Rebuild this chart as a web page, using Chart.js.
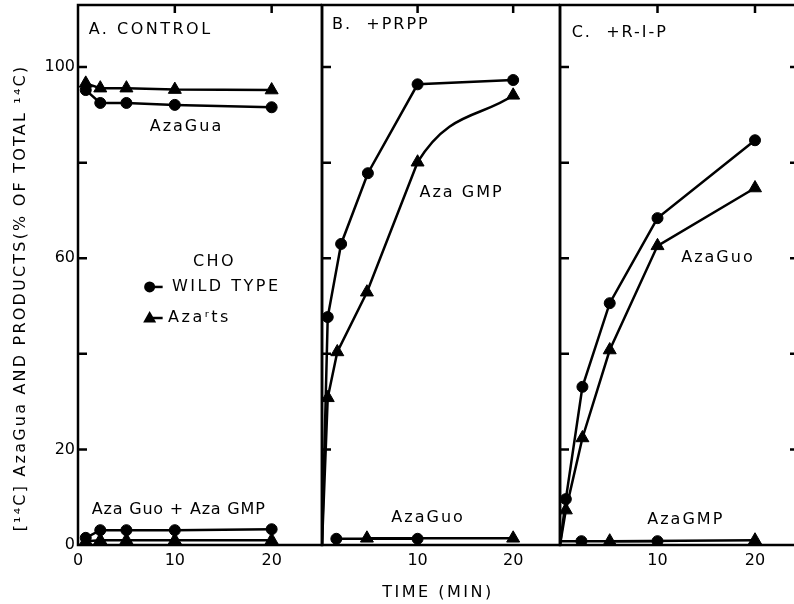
<!DOCTYPE html>
<html>
<head>
<meta charset="utf-8">
<script src="https://cdn.jsdelivr.net/npm/chart.js@4.4.1/dist/chart.umd.min.js"></script>
<style>
html, body { margin: 0; padding: 0; background: #fff; overflow: hidden; }
#wrap { position: relative; width: 794px; height: 604px; overflow: hidden; }
canvas { position: absolute; left: 0; top: 0; }
</style>
</head>
<body>
<div id="wrap">
  <canvas id="cA" width="794" height="604"></canvas>
  <canvas id="cB" width="794" height="604"></canvas>
  <canvas id="cC" width="794" height="604"></canvas>
</div>
<script>
// ---- data (time in min, % of total 14C) ----
// A. control
const timeA = [0.8, 2.3, 5, 10, 20];
const guaWildA = [95.2, 92.5, 92.5, 92.1, 91.6];
const guaMutA = [96.6, 95.6, 95.6, 95.3, 95.2];
const prodWildA = [1.5, 3.1, 3.1, 3.1, 3.3];
const prodMutA = [0.8, 1.0, 1.0, 1.0, 1.0];

// B. + PRPP
const timeWildB = [0, 0.6, 2, 4.8, 10, 20];
const gmpWildB = [0, 47.7, 63.0, 77.8, 96.4, 97.3];
const timeMutB = [0, 0.6, 1.6, 4.7, 10, 20];
const gmpMutB = [0, 30.8, 40.4, 52.9, 80.1, 94.1];
const guoTimeWildB = [1.5, 10];
const guoWildB = [1.3, 1.3];
const guoTimeMutB = [4.7, 20];
const guoMutB = [1.4, 1.4];

// C. + R-1-P
const timeC = [0, 0.6, 2.3, 5.1, 10, 20];
const guoWildC = [0, 9.6, 33.1, 50.6, 68.4, 84.7];
const guoMutC = [0, 7.3, 22.4, 40.8, 62.6, 74.7];
const gmpTimeWildC = [0, 2.2, 10];
const gmpWildC = [0.8, 0.8, 0.8];
const gmpTimeMutC = [5.1, 20];
const gmpMutC = [0.8, 1.0];

// tick labels
const yTickLabels = [0, 20, 60, 100];
const xTickLabelsA = [0, 10, 20];
const xTickLabelsBC = [10, 20];

const FONT = '"DejaVu Sans", sans-serif';
const INK = '#000';

const xy = (ts, vs) => ts.map((t, i) => ({ x: t, y: vs[i] }));

function series(points, style, extra) {
  return Object.assign({
    data: points,
    borderColor: INK,
    borderWidth: 2.5,
    pointStyle: style,
    pointRadius: style === 'triangle' ? 7.5 : 5.5,
    pointBackgroundColor: INK,
    pointBorderColor: INK,
    pointBorderWidth: 1,
    tension: 0
  }, extra || {});
}

function noPad(s) {
  s.paddingTop = 0; s.paddingBottom = 0; s.paddingLeft = 0; s.paddingRight = 0;
}

// frame, inward ticks and lettering
const framePlugin = {
  id: 'frame',
  afterDraw(chart, args, o) {
    const { ctx, chartArea: a, scales: { x, y } } = chart;
    ctx.save();
    ctx.strokeStyle = INK;
    ctx.lineWidth = 2.5;
    ctx.beginPath();
    ctx.moveTo(a.right, a.top); ctx.lineTo(a.left, a.top);
    ctx.lineTo(a.left, a.bottom); ctx.lineTo(a.right, a.bottom);
    if (!o.openRight) ctx.lineTo(a.right, a.top);
    y.ticks.forEach(t => {
      if (t.value > 0 && t.value % 20 === 0) {
        const py = y.getPixelForValue(t.value);
        ctx.moveTo(a.left, py); ctx.lineTo(a.left + 9, py);
        if (o.openRight) { ctx.moveTo(a.right, py); ctx.lineTo(a.right - 4, py); }
      }
    });
    x.ticks.forEach(t => {
      if (t.value > 0 && t.value % 10 === 0) {
        const px = x.getPixelForValue(t.value);
        ctx.moveTo(px, a.top); ctx.lineTo(px, a.top + 8);
      }
    });
    ctx.stroke();

    ctx.fillStyle = INK;
    ctx.font = '16px ' + FONT;
    ctx.textBaseline = 'middle';
    (o.texts || []).forEach(l => {
      ctx.letterSpacing = l.spacing || '2.5px';
      ctx.textAlign = l.align || 'center';
      ctx.fillText(l.text, x.getPixelForValue(l.x), y.getPixelForValue(l.y));
    });

    // little legend
    ctx.letterSpacing = '2.5px';
    (o.keys || []).forEach(k => {
      const px = x.getPixelForValue(k.x), py = y.getPixelForValue(k.y);
      ctx.beginPath();
      ctx.lineWidth = 2.5;
      ctx.moveTo(px, py); ctx.lineTo(px + 13, py);
      ctx.stroke();
      ctx.beginPath();
      if (k.style === 'circle') {
        ctx.arc(px, py, 5.5, 0, Math.PI * 2);
      } else {
        ctx.moveTo(px, py - 7); ctx.lineTo(px + 6.5, py + 4.5); ctx.lineTo(px - 6.5, py + 4.5);
        ctx.closePath();
      }
      ctx.fill();
      ctx.textAlign = 'left';
      ctx.fillText(k.text, x.getPixelForValue(k.tx), py);
    });

    (o.free || []).forEach(l => {
      ctx.save();
      ctx.translate(l.px, l.py);
      if (l.rot) ctx.rotate(l.rot);
      ctx.textAlign = 'center';
      ctx.letterSpacing = l.spacing || '2.5px';
      ctx.fillText(l.text, 0, 0);
      ctx.restore();
    });
    ctx.restore();
  }
};

function panel(id, p) {
  return new Chart(document.getElementById(id), {
    type: 'line',
    data: { datasets: p.datasets },
    options: {
      responsive: false,
      animation: false,
      // autoPadding would push the plot box in to make room for the markers
      layout: {
        autoPadding: false,
        padding: { left: p.area.left - p.yWidth, right: 794 - p.area.right, top: p.area.top, bottom: 0 }
      },
      plugins: {
        legend: { display: false },
        tooltip: { enabled: false },
        frame: p.frame
      },
      scales: {
        x: {
          type: 'linear', min: 0, max: p.xMax,
          grid: { display: false, drawTicks: false },
          border: { display: false },
          ticks: {
            stepSize: 10, includeBounds: false, autoSkip: false, maxRotation: 0, padding: 6,
            color: INK, font: { family: FONT, size: 16 },
            callback: v => p.xLabels.includes(v) ? String(v) : ''
          },
          afterFit: s => { s.height = 604 - p.area.bottom; noPad(s); }
        },
        y: {
          type: 'linear', min: 0, max: 113,
          grid: { display: false, drawTicks: false },
          border: { display: false },
          ticks: {
            display: p.yLabels, stepSize: 20, includeBounds: false, padding: 3,
            color: INK, font: { family: FONT, size: 16 },
            callback: v => yTickLabels.includes(v) ? String(v) : ''
          },
          afterFit: s => { s.width = p.yWidth; noPad(s); }
        }
      }
    },
    plugins: [framePlugin]
  });
}

panel('cA', {
  area: { left: 78, right: 322, top: 5, bottom: 545 },
  yWidth: 78, xMax: 25.2, yLabels: true, xLabels: xTickLabelsA,
  datasets: [
    series(xy(timeA, guaWildA), 'circle'),
    series(xy(timeA, guaMutA), 'triangle'),
    series(xy(timeA, prodWildA), 'circle'),
    series(xy(timeA, prodMutA), 'triangle')
  ],
  frame: {
    texts: [
      { text: 'A. CONTROL', x: 1.1, y: 107.7, align: 'left' },
      { text: 'AzaGua', x: 11.2, y: 87.4, spacing: '2px' },
      { text: 'CHO', x: 14.1, y: 59.2 },
      { text: 'Aza Guo + Aza GMP', x: 10.4, y: 7.3, spacing: '0.8px' }
    ],
    keys: [
      { style: 'circle', x: 7.4, y: 54.0, tx: 9.7, text: 'WILD TYPE' },
      { style: 'triangle', x: 7.4, y: 47.5, tx: 9.3, text: 'Azaʳts' }
    ],
    free: [
      { text: '[¹⁴C] AzaGua AND PRODUCTS(% OF TOTAL ¹⁴C)', px: 21, py: 298, rot: -Math.PI / 2, spacing: '2.2px' }
    ]
  }
});

// the mutant curve in B is straight up to 10 min and bends between 10 and 20 min
const mutLineB = series(xy(timeMutB, gmpMutB), 'triangle', {
  pointRadius: [0, 7.5, 7.5, 7.5, 7.5, 7.5],
  segment: { borderColor: c => c.p0DataIndex === 4 ? 'rgba(0,0,0,0)' : INK }
});
const mutBendB = series(xy(timeMutB.slice(3), gmpMutB.slice(3)), 'triangle', {
  pointRadius: 0,
  cubicInterpolationMode: 'monotone',
  segment: { borderColor: c => c.p0DataIndex === 0 ? 'rgba(0,0,0,0)' : INK }
});

panel('cB', {
  area: { left: 322, right: 560, top: 5, bottom: 545 },
  yWidth: 0, xMax: 24.9, yLabels: false, xLabels: xTickLabelsBC,
  datasets: [
    series(xy(timeWildB, gmpWildB), 'circle', { pointRadius: [0, 5.5, 5.5, 5.5, 5.5, 5.5] }),
    mutLineB,
    mutBendB,
    series(xy(guoTimeWildB, guoWildB), 'circle'),
    series(xy(guoTimeMutB, guoMutB), 'triangle')
  ],
  frame: {
    texts: [
      { text: 'B.  +PRPP', x: 1.05, y: 108.8, align: 'left', spacing: '2px' },
      { text: 'Aza GMP', x: 14.6, y: 73.6, spacing: '2px' },
      { text: 'AzaGuo', x: 11.1, y: 5.6, spacing: '2px' }
    ],
    free: [
      { text: 'TIME (MIN)', px: 438, py: 593 }
    ]
  }
});

panel('cC', {
  area: { left: 560, right: 794, top: 5, bottom: 545 },
  yWidth: 0, xMax: 24.0, yLabels: false, xLabels: xTickLabelsBC,
  datasets: [
    series(xy(timeC, guoWildC), 'circle', { pointRadius: [0, 5.5, 5.5, 5.5, 5.5, 5.5] }),
    series(xy(timeC, guoMutC), 'triangle', { pointRadius: [0, 7.5, 7.5, 7.5, 7.5, 7.5] }),
    series(xy(gmpTimeWildC, gmpWildC), 'circle', { pointRadius: [0, 5.5, 5.5] }),
    series(xy(gmpTimeMutC, gmpMutC), 'triangle')
  ],
  frame: {
    openRight: true,
    texts: [
      { text: 'C.  +R-I-P', x: 1.2, y: 107.1, align: 'left', spacing: '2px' },
      { text: 'AzaGuo', x: 16.2, y: 60.0, spacing: '2px' },
      { text: 'AzaGMP', x: 12.9, y: 5.2, spacing: '2px' }
    ]
  }
});
</script>
</body>
</html>
